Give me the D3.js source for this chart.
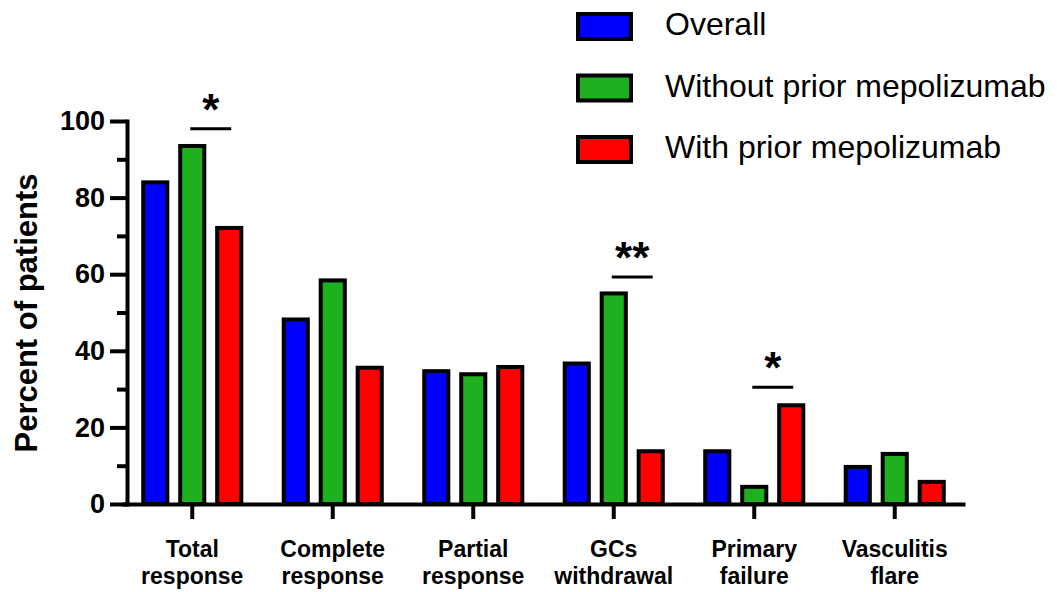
<!DOCTYPE html>
<html>
<head>
<meta charset="utf-8">
<script src="https://cdn.jsdelivr.net/npm/d3@7"></script>
<style>
  html, body { margin: 0; padding: 0; background: #fff; }
  svg { display: block; font-family: "Liberation Sans", Arial, sans-serif; }
</style>
</head>
<body>
<div id="chart"></div>
<script>
// data
const categories = ["Total response", "Complete response", "Partial response", "GCs withdrawal", "Primary failure", "Vasculitis flare"];
const seriesNames = ["Overall", "Without prior mepolizumab", "With prior mepolizumab"];
const overall = [84.5, 48.7, 35.2, 37.2, 14.3, 10.2];
const withoutPrior = [94.0, 58.9, 34.4, 55.5, 5.0, 13.6];
const withPrior = [72.6, 36.1, 36.3, 14.3, 26.3, 6.3];
const yMajorTicks = [0, 20, 40, 60, 80, 100];
const yMinorTicks = [10, 30, 50, 70, 90];
// significance brackets: level in % of the y scale
const sigCategories = ["Total response", "GCs withdrawal", "Primary failure"];
const sigLabels = ["*", "**", "*"];
const sigLevels = [98, 59.3, 30.5];

const colors = ["#0000ff", "#1eb01e", "#ff0000"];
const W = 1057, H = 592;
const axisX = 127, axisY = 504, axisTop = 121, axisRight = 965;
const stroke = 4;

const svg = d3.select("#chart").append("svg")
  .attr("width", W)
  .attr("height", H);

const rows = categories.map((c, i) => ({
  cat: c,
  values: [overall[i], withoutPrior[i], withPrior[i]]
}));

// scales
const y = d3.scaleLinear().domain([0, 100]).range([axisY, axisTop]);
const x0 = d3.scaleBand().domain(categories).range([122, axisRight]).padding(0);
const x1 = d3.scaleBand().domain(seriesNames).range([0, x0.bandwidth()])
  .paddingInner(0.24).paddingOuter(0.52);

// bars
const groups = svg.append("g").selectAll("g")
  .data(rows)
  .join("g")
  .attr("transform", d => `translate(${x0(d.cat)},0)`);

groups.selectAll("rect")
  .data(d => d.values.map((v, j) => ({series: seriesNames[j], value: v, color: colors[j]})))
  .join("rect")
  .attr("x", d => x1(d.series) + stroke / 2)
  .attr("y", d => y(d.value) + stroke / 2)
  .attr("width", x1.bandwidth() - stroke)
  .attr("height", d => y(0) - y(d.value) - stroke / 2)
  .attr("fill", d => d.color)
  .attr("stroke", "#000")
  .attr("stroke-width", stroke);

// y axis minor ticks
svg.append("g")
  .attr("transform", `translate(${axisX},0)`)
  .call(d3.axisLeft(y).tickValues(yMinorTicks).tickSize(10).tickFormat(""))
  .call(g => g.select(".domain").remove())
  .call(g => g.selectAll(".tick line").attr("stroke", "#000").attr("stroke-width", stroke));

// y axis major
svg.append("g")
  .attr("transform", `translate(${axisX},0)`)
  .call(d3.axisLeft(y).tickValues(yMajorTicks).tickSize(17).tickSizeOuter(0).tickPadding(5))
  .call(g => g.select(".domain").attr("stroke", "#000").attr("stroke-width", stroke).attr("stroke-linecap", "square"))
  .call(g => g.selectAll(".tick line").attr("stroke", "#000").attr("stroke-width", stroke))
  .call(g => g.selectAll(".tick text")
    .attr("fill", "#000")
    .style("font-size", "27px")
    .style("font-weight", "bold"));

// x axis
const xAxis = svg.append("g")
  .attr("transform", `translate(0,${axisY})`)
  .call(d3.axisBottom(x0).tickSize(15).tickSizeOuter(0).tickFormat(""));
xAxis.select(".domain").attr("stroke", "#000").attr("stroke-width", stroke);
xAxis.selectAll(".tick line").attr("stroke", "#000").attr("stroke-width", stroke);

// category labels (two lines)
svg.append("g").selectAll("text")
  .data(categories)
  .join("text")
  .attr("x", d => x0(d) + x0.bandwidth() / 2)
  .attr("y", 557)
  .attr("text-anchor", "middle")
  .style("font-size", "23px")
  .style("font-weight", "bold")
  .selectAll("tspan")
  .data(d => d.split(" "))
  .join("tspan")
  .attr("x", function() { return d3.select(this.parentNode).attr("x"); })
  .attr("dy", (d, i) => i === 0 ? 0 : 27)
  .text(d => d);

// y axis title
svg.append("text")
  .attr("transform", `translate(37,313) rotate(-90)`)
  .attr("text-anchor", "middle")
  .style("font-size", "31px")
  .style("font-weight", "bold")
  .text("Percent of patients");

// significance marks
const sig = svg.append("g");
sigCategories.forEach((c, i) => {
  const xa = x0(c) + x1(seriesNames[1]) + x1.bandwidth() / 2 - 2;
  const xb = x0(c) + x1(seriesNames[2]) + x1.bandwidth() / 2 + 2;
  const ly = y(sigLevels[i]);
  sig.append("line")
    .attr("x1", xa).attr("x2", xb)
    .attr("y1", ly).attr("y2", ly)
    .attr("stroke", "#000")
    .attr("stroke-width", 3);
  sig.append("text")
    .attr("x", (xa + xb) / 2)
    .attr("y", ly - 4)
    .attr("text-anchor", "middle")
    .style("font-size", "44px")
    .style("font-weight", "bold")
    .text(sigLabels[i]);
});

// legend
const legend = svg.append("g");
seriesNames.forEach((s, i) => {
  const ty = 14 + i * 61.5;
  legend.append("rect")
    .attr("x", 578).attr("y", ty)
    .attr("width", 53).attr("height", 25)
    .attr("fill", colors[i])
    .attr("stroke", "#000")
    .attr("stroke-width", stroke);
  legend.append("text")
    .attr("x", 665)
    .attr("y", ty + 21)
    .style("font-size", "32px")
    .text(s);
});
</script>
</body>
</html>
